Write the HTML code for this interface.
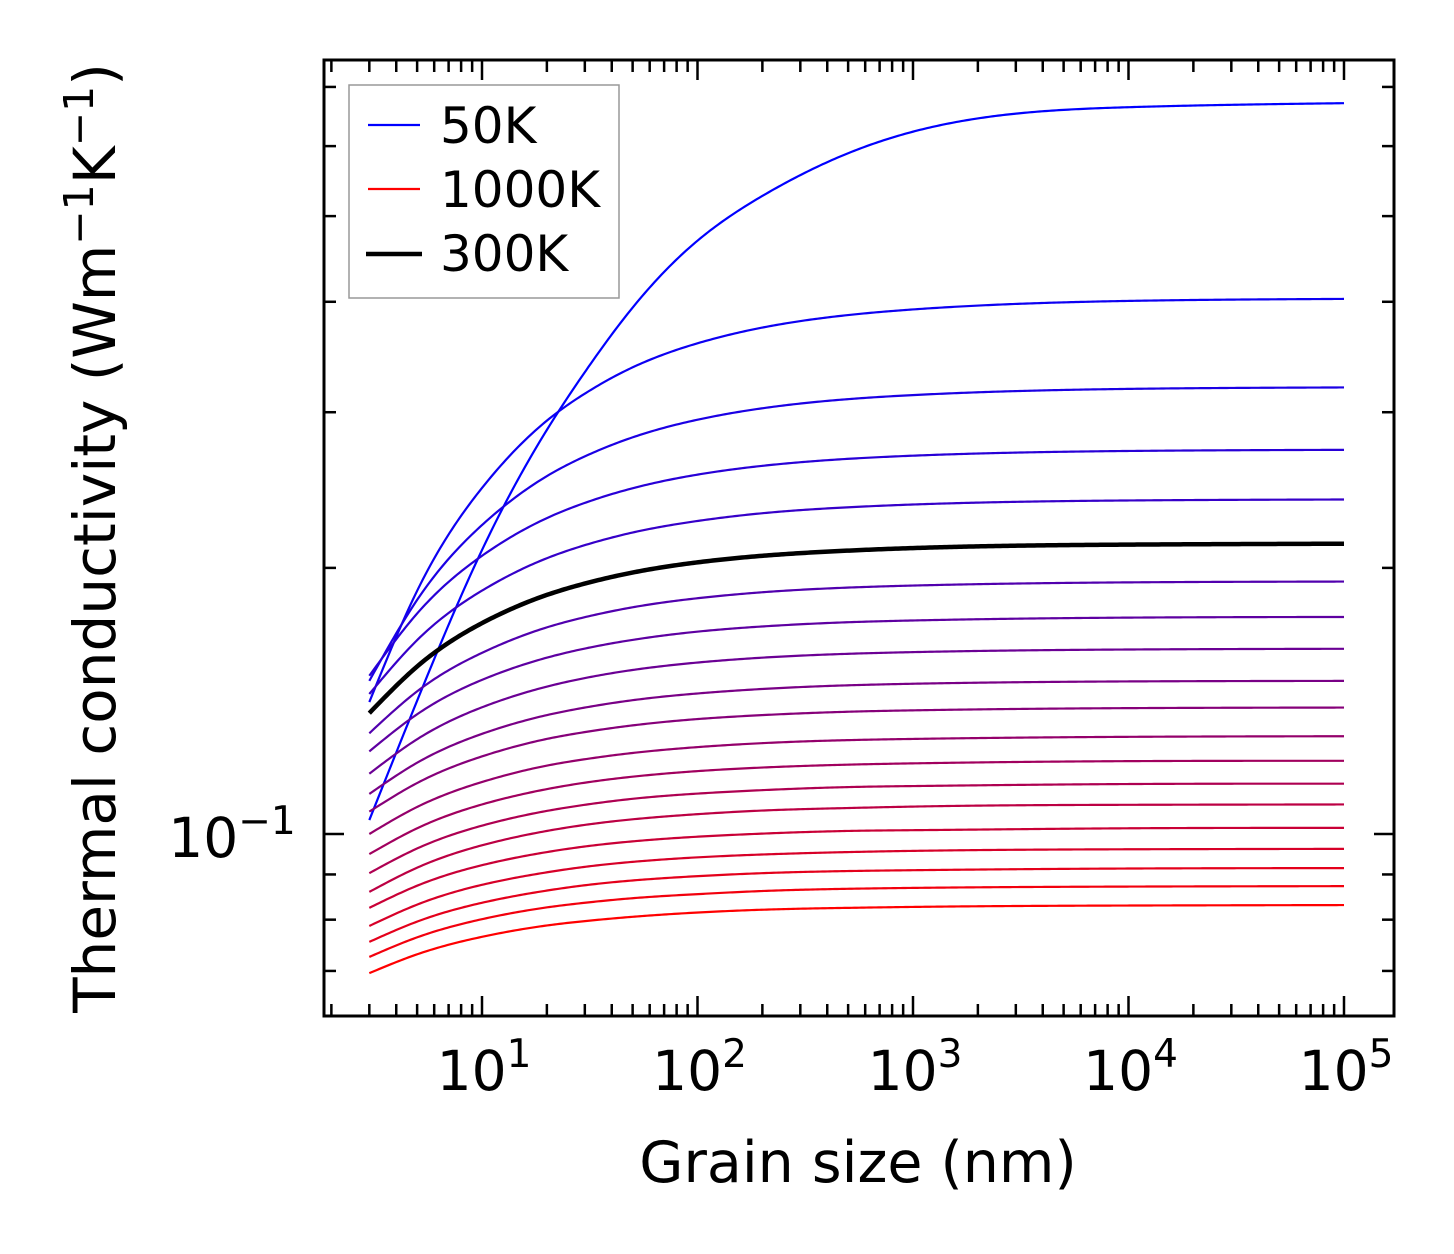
<!DOCTYPE html>
<html><head><meta charset="utf-8"><style>
html,body{margin:0;padding:0;background:#fff;}
svg{display:block;font-family:"DejaVu Sans","Liberation Sans",sans-serif;}
</style></head><body>
<svg id="chart" width="1454" height="1254" viewBox="0 0 1454 1254" xmlns="http://www.w3.org/2000/svg">
<rect x="0" y="0" width="1454" height="1254" fill="#fff"/>
<g id="curves"></g>
<g id="ticks"></g>
<rect x="324" y="60" width="1070" height="956" fill="none" stroke="#000" stroke-width="3"/>
<g id="xlabels" font-size="55" text-anchor="middle"></g>
<text x="232" y="857" font-size="55" text-anchor="middle">10<tspan dy="-23" font-size="39">−1</tspan></text>
<text x="858" y="1182" font-size="57" text-anchor="middle">Grain size (nm)</text>
<text transform="translate(115,538) rotate(-90)" font-size="58" text-anchor="middle">Thermal conductivity (Wm<tspan dy="-22" font-size="41">−1</tspan><tspan dy="22">K</tspan><tspan dy="-22" font-size="41">−1</tspan><tspan dy="22">)</tspan></text>
<g>
<rect x="349" y="85" width="270" height="213" fill="#fff" stroke="#999" stroke-width="1.5"/>
<line x1="368" y1="125" x2="420" y2="125" stroke="#0000ff" stroke-width="2.2"/>
<text x="440" y="143" font-size="50">50K</text>
<line x1="368" y1="189" x2="420" y2="189" stroke="#ff0000" stroke-width="2.2"/>
<text x="440" y="207" font-size="50">1000K</text>
<line x1="366" y1="254" x2="422" y2="254" stroke="#000" stroke-width="4.5"/>
<text x="440" y="271" font-size="50">300K</text>
</g>
</svg>
<script>
const grainSizes = [3, 5, 10, 20, 30, 50, 100, 200, 500, 1000, 10000, 100000];
const temperatures = [50,100,150,200,250,300,350,400,450,500,550,600,650,700,750,800,850,900,950,1000];
const k50  = [0.1037,0.1415,0.2095,0.2865,0.333,0.394,0.469,0.527,0.589,0.623,0.664,0.671];
const k100 = [0.141,0.1884,0.2463,0.2935,0.3149,0.3372,0.3590,0.3740,0.3864,0.3921,0.4009,0.403];
const k150 = [0.149,0.1840,0.2236,0.2540,0.2674,0.2810,0.2942,0.3031,0.3104,0.3137,0.3188,0.320];
const k200 = [0.151,0.1776,0.2064,0.2277,0.2369,0.2461,0.2550,0.2609,0.2657,0.2679,0.2712,0.272];
const k250 = [0.144,0.1657,0.1885,0.2051,0.2122,0.2193,0.2260,0.2306,0.2342,0.2359,0.2384,0.239];
const k300 = [0.137,0.1547,0.1732,0.1864,0.1920,0.1976,0.2029,0.2064,0.2092,0.2106,0.2125,0.213];
const k350 = [0.130,0.1450,0.1603,0.1713,0.1759,0.1805,0.1848,0.1877,0.1900,0.1910,0.1926,0.193];
const k400 = [0.124,0.1366,0.1494,0.1583,0.1621,0.1658,0.1694,0.1717,0.1736,0.1744,0.1757,0.176];
const k450 = [0.117,0.1280,0.1391,0.1468,0.1501,0.1533,0.1563,0.1583,0.1599,0.1606,0.1617,0.162];
const k500 = [0.111,0.1204,0.1298,0.1363,0.1390,0.1417,0.1442,0.1459,0.1473,0.1479,0.1488,0.149];
const k550 = [0.106,0.1142,0.1224,0.1281,0.1304,0.1327,0.1349,0.1363,0.1375,0.1380,0.1388,0.139];
const k600 = [0.100,0.1073,0.1145,0.1195,0.1215,0.1235,0.1254,0.1267,0.1277,0.1281,0.1288,0.129];
const k650 = [0.0949,0.1015,0.1080,0.1124,0.1143,0.1161,0.1178,0.1189,0.1198,0.1202,0.1209,0.121];
const k700 = [0.0903,0.0963,0.1022,0.1062,0.1079,0.1096,0.1111,0.1121,0.1130,0.1133,0.1139,0.114];
const k750 = [0.0860,0.0916,0.0971,0.1008,0.1024,0.1039,0.1053,0.1063,0.1070,0.1074,0.1079,0.108];
const k800 = [0.0825,0.0874,0.0922,0.0954,0.0968,0.0981,0.0993,0.1001,0.1008,0.1010,0.1015,0.1016];
const k850 = [0.0787,0.0832,0.0876,0.0905,0.0918,0.0930,0.0941,0.0948,0.0954,0.0957,0.0961,0.0962];
const k900 = [0.0755,0.0796,0.0836,0.0863,0.0875,0.0886,0.0896,0.0903,0.0908,0.0910,0.0914,0.0915];
const k950 = [0.0726,0.0764,0.0801,0.0826,0.0836,0.0846,0.0855,0.0862,0.0867,0.0869,0.0872,0.0873];
const k1000 = [0.0696,0.0731,0.0765,0.0788,0.0797,0.0806,0.0815,0.0821,0.0825,0.0827,0.0830,0.0831];
const series = [k50,k100,k150,k200,k250,k300,k350,k400,k450,k500,k550,k600,k650,k700,k750,k800,k850,k900,k950,k1000];
const xTickLabels = ["1","2","3","4","5"];

const NS = "http://www.w3.org/2000/svg";
function xScale(v){ return 482 + (Math.log10(v) - 1) * 215.5; }
function yScale(v){ return 834 - (Math.log10(v) + 1) * 884; }

// natural cubic spline (C2 smooth)
function spline(xs, ys){
  const n = xs.length, h = [];
  for (let i=0;i<n-1;i++) h.push(xs[i+1]-xs[i]);
  const A = [], B = [], C = [], R = [];
  for (let i=0;i<n;i++){
    if (i===0 || i===n-1){ A.push(0); B.push(1); C.push(0); R.push(0); }
    else {
      A.push(h[i-1]); B.push(2*(h[i-1]+h[i])); C.push(h[i]);
      R.push(6*((ys[i+1]-ys[i])/h[i] - (ys[i]-ys[i-1])/h[i-1]));
    }
  }
  for (let i=1;i<n;i++){ const w=A[i]/B[i-1]; B[i]-=w*C[i-1]; R[i]-=w*R[i-1]; }
  const M = new Array(n);
  M[n-1]=R[n-1]/B[n-1];
  for (let i=n-2;i>=0;i--) M[i]=(R[i]-C[i]*M[i+1])/B[i];
  return function(x){
    let i=0; while(i<n-2 && x>xs[i+1]) i++;
    const a=xs[i+1]-x, b=x-xs[i], hh=h[i];
    return M[i]*a*a*a/(6*hh) + M[i+1]*b*b*b/(6*hh) + (ys[i]/hh - M[i]*hh/6)*a + (ys[i+1]/hh - M[i+1]*hh/6)*b;
  };
}

const gC = document.getElementById('curves');
const lx = grainSizes.map(v=>Math.log10(v));
function drawCurve(idx){
  const ly = series[idx].map(v=>Math.log10(v));
  const f = spline(lx, ly);
  let d = "";
  const N = 400;
  for (let j=0;j<=N;j++){
    const l = lx[0] + (lx[lx.length-1]-lx[0])*j/N;
    const v = Math.pow(10, f(l));
    d += (j?"L":"M") + xScale(Math.pow(10,l)).toFixed(2) + " " + yScale(v).toFixed(2);
  }
  const p = document.createElementNS(NS,'path');
  const T = temperatures[idx];
  
  
  p.setAttribute('d', d);
  p.setAttribute('fill','none');
  p.setAttribute('stroke-linejoin','round');
  if (T === 300){ p.setAttribute('stroke','#000'); p.setAttribute('stroke-width','4.5'); }
  else {
    const r = Math.round(255*idx/(series.length-1));
    p.setAttribute('stroke', 'rgb('+r+',0,'+(255-r)+')');
    p.setAttribute('stroke-width','2.2');
  }
  gC.appendChild(p);
}
for (let i=0;i<series.length;i++){ if (temperatures[i]!==300) drawCurve(i); }
drawCurve(temperatures.indexOf(300));

const gT = document.getElementById('ticks');
function tick(x1,y1,x2,y2,name){
  const l = document.createElementNS(NS,'line');
  
  
  l.setAttribute('x1',x1); l.setAttribute('y1',y1); l.setAttribute('x2',x2); l.setAttribute('y2',y2);
  l.setAttribute('stroke','#000'); l.setAttribute('stroke-width','2.5');
  gT.appendChild(l);
}
for (let e=0;e<=5;e++){
  for (let k=1;k<=9;k++){
    const v = k*Math.pow(10,e); const x = xScale(v);
    if (x<326 || x>1392) continue;
    const len = k===1?20:12;
    tick(x,1016,x,1016-len,'x-tick');
    tick(x,60,x,60+len,'x-tick-top');
  }
}
const yTicks = [0.07,0.08,0.09,0.1,0.2,0.3,0.4,0.5,0.6,0.7];
yTicks.forEach(v=>{
  const y = yScale(v); const len = v===0.1?20:12;
  tick(324,y,324+len,y,'y-tick');
  tick(1394,y,1394-len,y,'y-tick-right');
});
const gX = document.getElementById('xlabels');
xTickLabels.forEach((s,i)=>{
  const t = document.createElementNS(NS,'text');
  
  
  t.setAttribute('x', xScale(Math.pow(10,i+1)) + 2);
  t.setAttribute('y', 1090);
  t.innerHTML = '10<tspan dy="-23" font-size="39">' + s + '</tspan>';
  gX.appendChild(t);
});
</script>
</body></html>
